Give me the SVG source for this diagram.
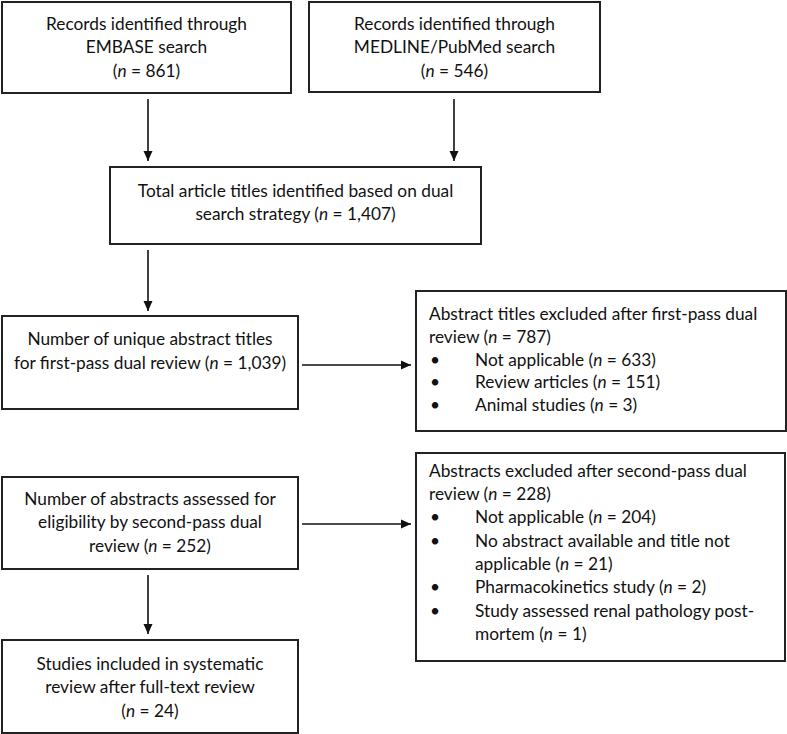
<svg xmlns="http://www.w3.org/2000/svg" width="787" height="734" viewBox="0 0 787 734">
<style>
.box{fill:#fff;stroke:#222;stroke-width:2}
.t{font-family:Lato,"Liberation Sans",sans-serif;font-size:17.3px;fill:#111}
.c{text-anchor:middle}
.i{font-style:italic}
.conn line{stroke:#111;stroke-width:1.6;marker-end:url(#ah)}
</style>
<defs>
<marker id="ah" markerUnits="userSpaceOnUse" markerWidth="10" markerHeight="10" refX="10" refY="5" orient="auto">
<path d="M0,0.5 L10,5 L0,9.5 z" fill="#111"/>
</marker>
</defs>
<rect width="787" height="734" fill="#fff"/>
<g id="embase">
<rect class="box" x="2" y="2" width="289" height="91"/>
<text class="t c" x="146.5" y="30">Records identified through</text>
<text class="t c" x="146.5" y="53">EMBASE search</text>
<text class="t c" x="146.5" y="77">(<tspan class="i">n</tspan> = 861)</text>
</g>
<g id="medline">
<rect class="box" x="309" y="2" width="291" height="90"/>
<text class="t c" x="454.5" y="30">Records identified through</text>
<text class="t c" x="454.5" y="53">MEDLINE/PubMed search</text>
<text class="t c" x="454.5" y="77">(<tspan class="i">n</tspan> = 546)</text>
</g>
<g id="total">
<rect class="box" x="110" y="167" width="371" height="77"/>
<text class="t c" x="295.5" y="197">Total article titles identified based on dual</text>
<text class="t c" x="295.5" y="220">search strategy (<tspan class="i">n</tspan> = 1,407)</text>
</g>
<g id="unique">
<rect class="box" x="2" y="316" width="296" height="93"/>
<text class="t c" x="150" y="345">Number of unique abstract titles</text>
<text class="t c" x="150" y="369">for first-pass dual review (<tspan class="i">n</tspan> = 1,039)</text>
</g>
<g id="excluded1">
<rect class="box" x="416" y="291" width="370" height="140"/>
<text class="t" x="429" y="320">Abstract titles excluded after first-pass dual</text>
<text class="t" x="429" y="343">review (<tspan class="i">n</tspan> = 787)</text>
<text class="t" x="430" y="366">•</text><text class="t" x="475" y="366">Not applicable (<tspan class="i">n</tspan> = 633)</text>
<text class="t" x="430" y="388">•</text><text class="t" x="475" y="388">Review articles (<tspan class="i">n</tspan> = 151)</text>
<text class="t" x="430" y="411">•</text><text class="t" x="475" y="411">Animal studies (<tspan class="i">n</tspan> = 3)</text>
</g>
<g id="assessed">
<rect class="box" x="2" y="477" width="296" height="92"/>
<text class="t c" x="150" y="505">Number of abstracts assessed for</text>
<text class="t c" x="150" y="528">eligibility by second-pass dual</text>
<text class="t c" x="150" y="552">review (<tspan class="i">n</tspan> = 252)</text>
</g>
<g id="excluded2">
<rect class="box" x="416" y="453" width="369" height="208"/>
<text class="t" x="429" y="477">Abstracts excluded after second-pass dual</text>
<text class="t" x="429" y="500">review (<tspan class="i">n</tspan> = 228)</text>
<text class="t" x="430" y="523">•</text><text class="t" x="475" y="523">Not applicable (<tspan class="i">n</tspan> = 204)</text>
<text class="t" x="430" y="547">•</text><text class="t" x="475" y="547">No abstract available and title not</text>
<text class="t" x="475" y="570">applicable (<tspan class="i">n</tspan> = 21)</text>
<text class="t" x="430" y="593">•</text><text class="t" x="475" y="593">Pharmacokinetics study (<tspan class="i">n</tspan> = 2)</text>
<text class="t" x="430" y="617">•</text><text class="t" x="475" y="617">Study assessed renal pathology post-</text>
<text class="t" x="475" y="640">mortem (<tspan class="i">n</tspan> = 1)</text>
</g>
<g id="included">
<rect class="box" x="2" y="640" width="296" height="93"/>
<text class="t c" x="150" y="670">Studies included in systematic</text>
<text class="t c" x="150" y="693">review after full-text review</text>
<text class="t c" x="150" y="717">(<tspan class="i">n</tspan> = 24)</text>
</g>
<g id="connectors" class="conn">
<line x1="148" y1="99" x2="148" y2="161"/>
<line x1="454" y1="99" x2="454" y2="161"/>
<line x1="148" y1="250" x2="148" y2="311"/>
<line x1="302" y1="365" x2="411" y2="365"/>
<line x1="302" y1="524" x2="411" y2="524"/>
<line x1="148" y1="575" x2="148" y2="634"/>
</g>
</svg>
